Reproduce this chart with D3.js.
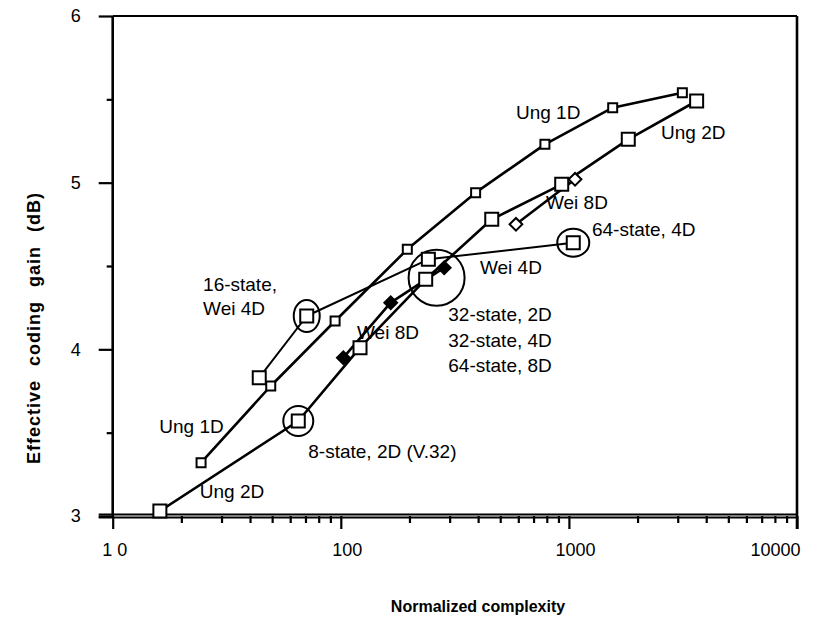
<!DOCTYPE html>
<html>
<head>
<meta charset="utf-8">
<script src="https://cdn.jsdelivr.net/npm/d3@7"></script>
<style>
  body { margin: 0; background: #fff; }
  text { font-family: "Liberation Sans", Arial, sans-serif; fill: #000; }
</style>
</head>
<body>
<div class="chart"></div>
<script>
var svgWidth = 821;
var svgHeight = 619;

var margin = { top: 16, right: 24, bottom: 103, left: 112.7 };
var width = svgWidth - margin.left - margin.right;
var height = svgHeight - margin.top - margin.bottom;

// Ung 1D (small squares)
var ung1dX = [24.4, 49.3, 94.4, 195.7, 390, 785, 1556, 3143];
var ung1dY = [3.32, 3.78, 4.17, 4.60, 4.94, 5.23, 5.45, 5.54];

// Ung 2D (big squares)
var ung2dX = [16.1, 65.1, 121.4, 235.6, 459, 930, 1821, 3631];
var ung2dY = [3.03, 3.57, 4.01, 4.42, 4.78, 4.99, 5.26, 5.49];

// Wei 4D (big squares, thin line)
var wei4dX = [43.9, 70.9, 242, 1045];
var wei4dY = [3.83, 4.20, 4.54, 4.64];

// Wei 8D, two pieces (filled and open diamonds)
var wei8dX = [102.6, 165.5, 284];
var wei8dY = [3.95, 4.28, 4.49];
var wei8dHiX = [586, 1064];
var wei8dHiY = [4.75, 5.02];

// circled points
var ringX = [70.9, 65.1, 263, 1045];
var ringY = [4.20, 3.57, 4.43, 4.64];

// annotation texts, anchored in data units
var labelText = ["Ung 1D", "Ung 2D", "Wei 8D", "64-state, 4D", "Wei 4D",
  "Wei 8D", "Ung 1D", "Ung 2D", "8-state, 2D (V.32)"];
var labelX = [586, 2535, 793, 1262, 407.5, 117.8, 16.0, 24.1, 72.0];
var labelY = [5.38, 5.26, 4.84, 4.68, 4.45, 4.06, 3.50, 3.11, 3.35];

var stackText = [["16-state,", "Wei 4D"], ["32-state, 2D", "32-state, 4D", "64-state, 8D"]];
var stackX = [24.9, 296];
var stackY = [4.35, 4.17];

var xMajor = [10, 100, 1000, 10000];
var yMajor = [3, 4, 5, 6];
var yMinor = [3.5, 4.5, 5.5];

function zip(xs, ys) {
  return xs.map(function (d, i) { return { x: d, y: ys[i] }; });
}

var svg = d3.select(".chart")
  .append("svg")
  .attr("width", svgWidth)
  .attr("height", svgHeight);

var chartGroup = svg.append("g")
  .attr("transform", `translate(${margin.left}, ${margin.top})`);

var xScale = d3.scaleLog().domain([10, 10000]).range([0, width]);
var yScale = d3.scaleLinear().domain([3, 6]).range([height, 0]);

// minor ticks from the log scale itself
var xMinor = xScale.ticks().filter(d => xMajor.indexOf(d) < 0);

// x axis: major then minor ticks
var xAxisMajor = chartGroup.append("g")
  .attr("transform", `translate(0, ${height})`)
  .call(d3.axisBottom(xScale).tickValues(xMajor).tickSize(13).tickPadding(14)
    .tickFormat(d3.format("d")));
chartGroup.append("g")
  .attr("transform", `translate(0, ${height})`)
  .call(d3.axisBottom(xScale).tickValues(xMinor).tickSize(7).tickFormat(""));

var yAxisMajor = chartGroup.append("g")
  .call(d3.axisLeft(yScale).tickValues(yMajor).tickSize(14).tickPadding(18)
    .tickFormat(d3.format("d")));
chartGroup.append("g")
  .call(d3.axisLeft(yScale).tickValues(yMinor).tickSize(6).tickFormat(""));

chartGroup.selectAll(".domain").remove();
chartGroup.selectAll(".tick line").attr("stroke", "#000").attr("stroke-width", 2.2);
chartGroup.selectAll(".tick text")
  .attr("font-size", "18px")
  .attr("font-family", "Liberation Sans, Arial, sans-serif")
  .attr("fill", "#000");
xAxisMajor.selectAll(".tick text")
  .attr("dx", 6);
xAxisMajor.selectAll(".tick text")
  .filter(d => d === 10)
  .attr("letter-spacing", "5px")
  .attr("dx", 4);
xAxisMajor.selectAll(".tick text")
  .filter(d => d === 10000)
  .attr("text-anchor", "end")
  .attr("dx", 3);

// frame
chartGroup.append("line")
  .attr("x1", 0).attr("x2", 0).attr("y1", 0).attr("y2", height)
  .attr("stroke", "#000").attr("stroke-width", 2.6);
chartGroup.append("line")
  .attr("x1", 0).attr("x2", width).attr("y1", 0).attr("y2", 0)
  .attr("stroke", "#000").attr("stroke-width", 2.2);
chartGroup.append("line")
  .attr("x1", width).attr("x2", width).attr("y1", 0).attr("y2", height + 13)
  .attr("stroke", "#000").attr("stroke-width", 2.6);
[-1.6, 1.6].forEach(function (off) {
  chartGroup.append("line")
    .attr("x1", -14).attr("x2", width).attr("y1", height + off).attr("y2", height + off)
    .attr("stroke", "#000").attr("stroke-width", 2);
});

var line = d3.line().x(d => xScale(d.x)).y(d => yScale(d.y));

var series = [
  { pts: zip(ung1dX, ung1dY), w: 2.6, marker: "sq", size: 9 },
  { pts: zip(ung2dX, ung2dY), w: 2.6, marker: "sq", size: 13 },
  { pts: zip(wei4dX, wei4dY), w: 2, marker: "sq", size: 13 },
  { pts: zip(wei8dX, wei8dY), w: 2.6, marker: "dfill", size: 9 },
  { pts: zip(wei8dHiX, wei8dHiY), w: 2.6, marker: "dopen", size: 9 }
];

series.forEach(function (s) {
  chartGroup.append("path")
    .datum(s.pts)
    .attr("d", line)
    .attr("fill", "none")
    .attr("stroke", "#000")
    .attr("stroke-width", s.w)
    .attr("stroke-linejoin", "round");
});

// circles round the highlighted points
var ringR = [[13, 16], [15, 15], [28, 28], [16, 14]];
chartGroup.selectAll(".ring")
  .data(zip(ringX, ringY))
  .enter()
  .append("ellipse")
  .attr("cx", d => xScale(d.x))
  .attr("cy", d => yScale(d.y))
  .attr("rx", (d, i) => ringR[i][0])
  .attr("ry", (d, i) => ringR[i][1])
  .attr("fill", "none")
  .attr("stroke", "#000")
  .attr("stroke-width", 2);

series.forEach(function (s) {
  var sym = d3.symbol().type(d3.symbolSquare).size(s.size * s.size);
  chartGroup.selectAll(null)
    .data(s.pts)
    .enter()
    .append("path")
    .attr("d", sym)
    .attr("transform", d => `translate(${xScale(d.x)}, ${yScale(d.y)})` +
      (s.marker === "sq" ? "" : " rotate(45)"))
    .attr("fill", s.marker === "dfill" ? "#000" : "#fff")
    .attr("stroke", "#000")
    .attr("stroke-width", 2);
});

// annotations
chartGroup.selectAll(".label")
  .data(labelText)
  .enter()
  .append("text")
  .attr("x", (d, i) => xScale(labelX[i]))
  .attr("y", (d, i) => yScale(labelY[i]))
  .attr("font-size", "19px")
  .text(d => d);

stackText.forEach(function (lines, k) {
  var t = chartGroup.append("text")
    .attr("x", xScale(stackX[k]))
    .attr("y", yScale(stackY[k]))
    .attr("font-size", "19px");
  lines.forEach(function (s, j) {
    t.append("tspan")
      .attr("x", xScale(stackX[k]))
      .attr("dy", j === 0 ? 0 : (k === 0 ? 24 : 25.5))
      .text(s);
  });
});

// axis titles
svg.append("text")
  .attr("x", 478)
  .attr("y", 612)
  .attr("text-anchor", "middle")
  .attr("font-size", "16px")
  .attr("font-weight", "bold")
  .text("Normalized complexity");

svg.append("text")
  .attr("transform", `translate(40, 328) rotate(-90)`)
  .attr("text-anchor", "middle")
  .attr("font-size", "18px")
  .attr("font-weight", "bold")
  .attr("letter-spacing", "1px")
  .attr("word-spacing", "8px")
  .text("Effective coding gain (dB)");
</script>
</body>
</html>
